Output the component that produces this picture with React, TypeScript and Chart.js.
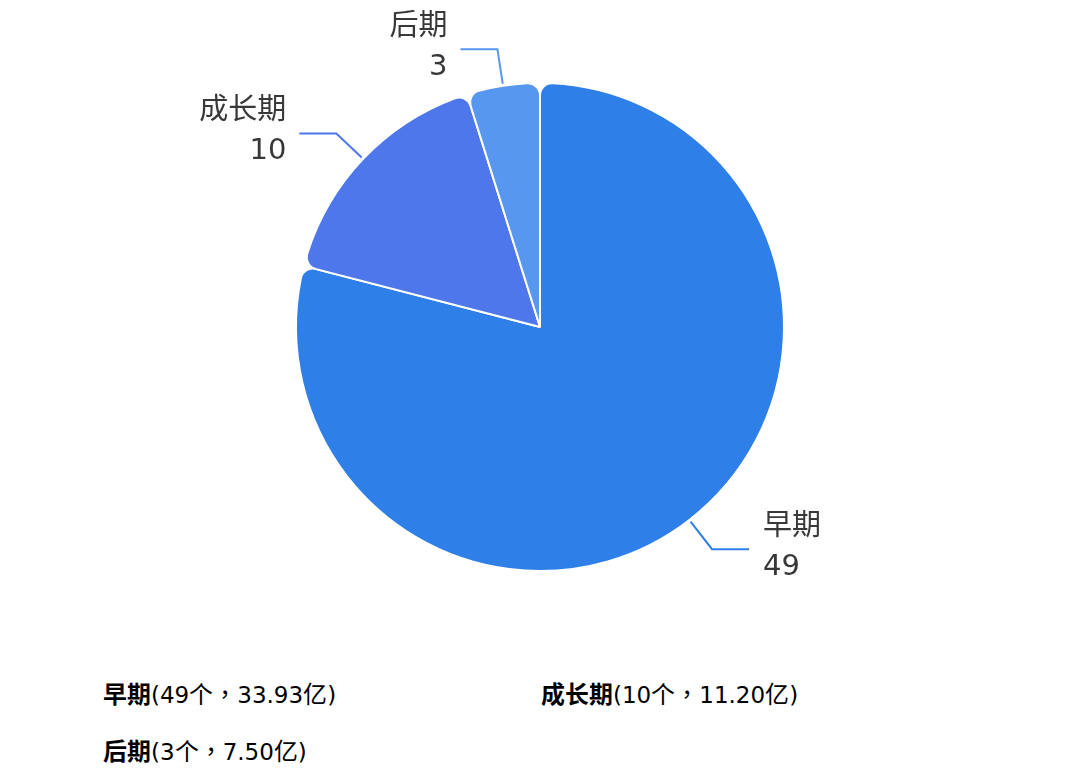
import { useEffect, useRef } from "react";
import { Chart, registerables } from "chart.js";

Chart.register(...registerables);

const stages = ["早期", "成长期", "后期"];
const counts = [49, 10, 3];
const amounts = ["33.93", "11.20", "7.50"];
const colors = ["#2e7fe8", "#4d77eb", "#5797ef"];

// CJK glyphs in the legend run a little larger than the latin ones
const fontCss = `
@font-face {
  font-family: "LegendCJK";
  src: local("Noto Sans CJK TC Regular"), local("Noto Sans CJK TC"), local("NotoSansCJKtc-Regular");
  font-weight: 400;
  size-adjust: 104%;
}
@font-face {
  font-family: "LegendCJK";
  src: local("Noto Sans CJK TC Bold"), local("NotoSansCJKtc-Bold");
  font-weight: 700;
  size-adjust: 104%;
}
`;

// draws the outside labels with elbow leader lines
const outsideLabels = {
  id: "outsideLabels",
  afterDatasetsDraw(chart: Chart) {
    const ctx = chart.ctx;
    const meta = chart.getDatasetMeta(0);
    meta.data.forEach((arc: any, i: number) => {
      const { x, y, startAngle, endAngle, outerRadius } = arc.getProps(
        ["x", "y", "startAngle", "endAngle", "outerRadius"],
        true
      );
      const mid = (startAngle + endAngle) / 2;
      const cos = Math.cos(mid);
      const sin = Math.sin(mid);
      const x0 = x + cos * (outerRadius + 2);
      const y0 = y + sin * (outerRadius + 2);
      const x1 = x + cos * (outerRadius + 37);
      const y1 = y + sin * (outerRadius + 37);
      const right = cos >= 0;
      const x2 = x1 + (right ? 37 : -37);

      ctx.save();
      ctx.strokeStyle = colors[i];
      ctx.lineWidth = 2;
      ctx.beginPath();
      ctx.moveTo(x0, y0);
      ctx.lineTo(x1, y1);
      ctx.lineTo(x2, y1);
      ctx.stroke();

      ctx.fillStyle = "#383838";
      ctx.font = '29px "DejaVu Sans", "Noto Sans CJK TC", sans-serif';
      ctx.textBaseline = "middle";
      ctx.textAlign = right ? "left" : "right";
      const tx = x2 + (right ? 14 : -13);
      ctx.fillText(stages[i], tx, y1 - 22);
      ctx.fillText(String(counts[i]), tx, y1 + 18);
      ctx.restore();
    });
  },
};

export default function App() {
  const chartRef = useRef<HTMLCanvasElement>(null);
  const chartInstance = useRef<Chart | null>(null);

  useEffect(() => {
    if (!chartRef.current) return;
    if (chartInstance.current) {
      chartInstance.current.destroy();
    }
    const ctx = chartRef.current.getContext("2d");
    if (!ctx) return;

    chartInstance.current = new Chart(ctx, {
      type: "pie",
      data: {
        labels: stages,
        datasets: [
          {
            data: counts,
            backgroundColor: colors,
            borderColor: "#ffffff",
            borderWidth: 2,
            borderRadius: 12,
            hoverOffset: 0,
          },
        ],
      },
      options: {
        responsive: true,
        maintainAspectRatio: false,
        animation: false,
        layout: {
          padding: { top: 82, bottom: 68, left: 0, right: 0 },
        },
        plugins: {
          legend: { display: false },
          tooltip: { enabled: false },
        },
      },
      plugins: [outsideLabels],
    });

    return () => {
      if (chartInstance.current) {
        chartInstance.current.destroy();
        chartInstance.current = null;
      }
    };
  }, []);

  const legendStyle = {
    position: "absolute" as const,
    fontFamily: '"DejaVu Sans", "LegendCJK", "Noto Sans CJK TC", sans-serif',
    fontSize: 23,
    color: "#000",
    lineHeight: "24px",
    whiteSpace: "nowrap" as const,
  };
  const legendPos = [
    { left: 103, top: 683 },
    { left: 541, top: 683 },
    { left: 103, top: 740 },
  ];

  return (
    <div
      style={{
        position: "fixed",
        left: 0,
        top: 0,
        width: 1080,
        height: 769,
        background: "#fff",
      }}
    >
      <style>{fontCss}</style>
      <div style={{ position: "absolute", left: 0, top: 0, width: 1080, height: 640 }}>
        <canvas ref={chartRef} />
      </div>
      {stages.map((s, i) => (
        <div key={s} style={{ ...legendStyle, ...legendPos[i] }}>
          <b>{s}</b>({counts[i]}个，{amounts[i]}亿)
        </div>
      ))}
    </div>
  );
}
